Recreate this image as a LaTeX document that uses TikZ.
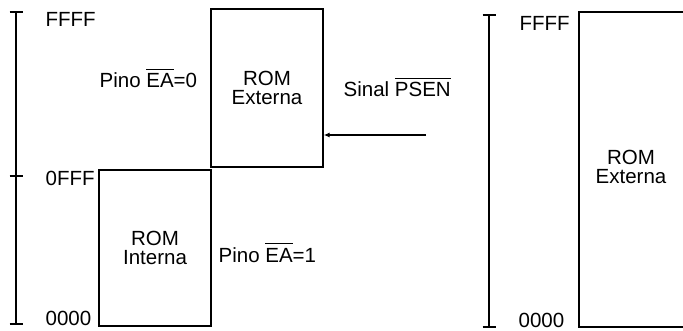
\documentclass[tikz,border=0pt]{standalone}
\usepackage{fontspec}
\setmainfont{Liberation Sans}
\usetikzlibrary{arrows.meta}
\newcommand\ovl[1]{$\overline{\hbox{\vphantom{Ä}#1}}$}
\begin{document}
\begin{tikzpicture}[x=1pt,y=-1pt,line width=1.3pt,
  lbl/.style={inner sep=0pt,font=\fontsize{20.5}{19.5}\selectfont},
  membox/.style={draw,inner sep=0pt,align=center,font=\fontsize{20.5}{19.5}\selectfont},
  axisline/.style={line width=1.3pt}]
\useasboundingbox (0,0) rectangle (683,331);
\clip (0,0) rectangle (683,331);
% left axis
\coordinate (la1) at (16,12);
\coordinate (la2) at (16,176);
\coordinate (la3) at (16,324);
\draw[axisline] (la1) -- (la3);
\foreach \c in {la1,la2,la3} \draw[axisline] ([xshift=-6.5pt]\c) -- ([xshift=6.5pt]\c);
\node[lbl,anchor=base west] (lffff) at (45,27) {FFFF};
\node[lbl,anchor=base west] (l0fff) at (45,186) {0FFF};
\node[lbl,anchor=base west] (l0000) at (45,325) {0000};
% boxes
\node[membox,minimum width=112pt,minimum height=158pt] (ext) at (267,88) {ROM\\Externa};
\node[membox,minimum width=112pt,minimum height=156pt] (int) at (155,248) {ROM\\Interna};
\node[lbl,anchor=base west] (ea0) at (99,88) {Pino \ovl{EA}=0};
\node[lbl,anchor=base west] (ea1) at (218,262) {Pino \ovl{EA}=1};
\node[lbl,anchor=base west] (psen) at (343,97) {Sinal \ovl{PSEN}};
% arrow
\coordinate (src) at (426,135);
\draw[-{Latex[length=6pt,width=5pt]}] (src) -- (ext.east |- src);
% right axis
\coordinate (ra1) at (489,15);
\coordinate (ra2) at (489,327);
\draw[axisline] (ra1) -- (ra2);
\foreach \c in {ra1,ra2} \draw[axisline] ([xshift=-6.5pt]\c) -- ([xshift=6.5pt]\c);
\node[lbl,anchor=base west] (rffff) at (519,31) {FFFF};
\node[lbl,anchor=base west] (r0000) at (518,327) {0000};
% right box (open to the right edge)
\coordinate (rb1) at (690,12);
\coordinate (rb2) at (579,12);
\coordinate (rb3) at (579,327);
\coordinate (rb4) at (690,327);
\draw (rb1) -- (rb2) -- (rb3) -- (rb4);
\node[lbl,align=center] (rext) at (631,167) {ROM\\Externa};
\end{tikzpicture}
\end{document}
